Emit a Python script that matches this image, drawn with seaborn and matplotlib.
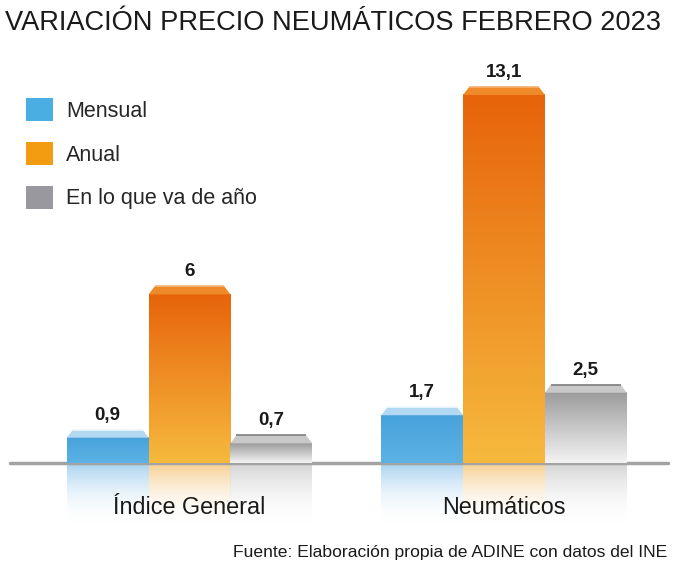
import numpy as np
import pandas as pd
import seaborn as sns
from matplotlib import pyplot as plt
from matplotlib.colors import to_rgb
from matplotlib.patches import Patch, Polygon

categorias = ['Índice General', 'Neumáticos']
series = ['Mensual', 'Anual', 'En lo que va de año']
mensual = [0.9, 1.7]
anual = [6.0, 13.1]
en_lo_que_va = [0.7, 2.5]

colores_leyenda = ['#4aaee3', '#f39c12', '#98989e']
# gradient (top, bottom) per series
gradientes = [('#48a2db', '#5cb2e5'), ('#e7640a', '#f6b93e'), ('#9c9c9c', '#f3f3f3')]
biseles = [('#eef7fd', '#b3d8f1'), ('#f6b070', '#ef8a2a'), ('#7e7e7e', '#c8c8c8')]
reflejos = ['#a9d3f0', '#f7cf90', '#d4d4d4']

PX_X = 314.5
PX_Y = 28.1


def gradient(ax, x0, x1, y0, y1, top, bottom, alpha_top=1.0, alpha_bottom=1.0, z=2):
    n = 64
    t = np.linspace(0, 1, n)[:, None]
    c0, c1 = np.array(to_rgb(top)), np.array(to_rgb(bottom))
    rgb = c0 * (1 - t) + c1 * t
    a = alpha_top * (1 - t) + alpha_bottom * t
    img = np.concatenate([rgb, a], axis=1)[:, None, :]
    ax.imshow(img, extent=(x0, x1, y0, y1), aspect='auto', origin='upper',
              interpolation='bicubic', zorder=z)


def main():
    df = pd.DataFrame({
        'categoria': categorias * 3,
        'serie': [s for s in series for _ in categorias],
        'valor': mensual + anual + en_lo_que_va,
    })

    fig = plt.figure(figsize=(6.96, 5.71), dpi=100)
    ax = fig.add_axes([0, 0, 1, 1])
    sns.barplot(data=df, x='categoria', y='valor', hue='serie', hue_order=series,
                palette=colores_leyenda, width=0.78, ax=ax, legend=False,
                errorbar=None, linewidth=0)

    bevel_h = 8 / PX_Y
    inset = 6 / PX_X
    refl_h = 62 / PX_Y
    for i, bar in enumerate(ax.patches):
        s = i // len(categorias)
        x0 = bar.get_x()
        w = bar.get_width()
        h = bar.get_height()
        bar.set_visible(False)
        gradient(ax, x0, x0 + w, 0, h, *gradientes[s], z=3)
        # bevelled top
        bevel = Polygon([(x0, h), (x0 + w, h), (x0 + w - inset, h + bevel_h),
                         (x0 + inset, h + bevel_h)], closed=True,
                        facecolor=biseles[s][1], edgecolor='none', zorder=4)
        ax.add_patch(bevel)
        ax.plot([x0 + inset, x0 + w - inset], [h + bevel_h, h + bevel_h],
                color=biseles[s][0], lw=1.2, zorder=5, solid_capstyle='butt')
        # reflection
        gradient(ax, x0, x0 + w, -refl_h, 0, reflejos[s], '#ffffff',
                 alpha_top=1.0, alpha_bottom=0.0, z=1)
        ax.text(x0 + w / 2, h + bevel_h + 6 / PX_Y, f'{h:g}'.replace('.', ','),
                ha='center', va='bottom', fontsize=13.5, fontweight='bold',
                color='#1a1a1a', zorder=6)

    # baseline
    ax.plot([-179.5 / PX_X, 478.5 / PX_X], [0, 0], color='#a3a3a3', lw=2.5, zorder=2)

    for j, cat in enumerate(categorias):
        ax.text(j, -44 / PX_Y, cat, ha='center', va='center', fontsize=16.8,
                color='#1a1a1a', zorder=6)

    ax.set_xlim(-189.5 / PX_X, (696 - 189.5) / PX_X)
    ax.set_ylim(-108 / PX_Y, 463 / PX_Y)
    ax.axis('off')

    handles = [Patch(facecolor=c, edgecolor='none') for c in colores_leyenda]
    fig.legend(handles, series, loc='upper left', bbox_to_anchor=(26 / 696, 1 - 98 / 571),
               frameon=False, fontsize=15.5, handlelength=1.25, handleheight=1.3,
               handletextpad=0.6, labelspacing=0.92, borderpad=0, borderaxespad=0)

    fig.text(5 / 696, 1 - 23 / 571, 'VARIACIÓN PRECIO NEUMÁTICOS FEBRERO 2023',
             ha='left', va='center', fontsize=19.6, color='#1a1a1a')
    fig.text(667 / 696, 1 - 553 / 571, 'Fuente: Elaboración propia de ADINE con datos del INE',
             ha='right', va='center', fontsize=12.6, color='#1a1a1a')

    fig.savefig('out.png', dpi=100, facecolor='white')
    plt.close(fig)


if __name__ == '__main__':
    sns.set_theme(style='white')
    plt.rcParams['font.family'] = ['Liberation Sans', 'DejaVu Sans']
    main()
